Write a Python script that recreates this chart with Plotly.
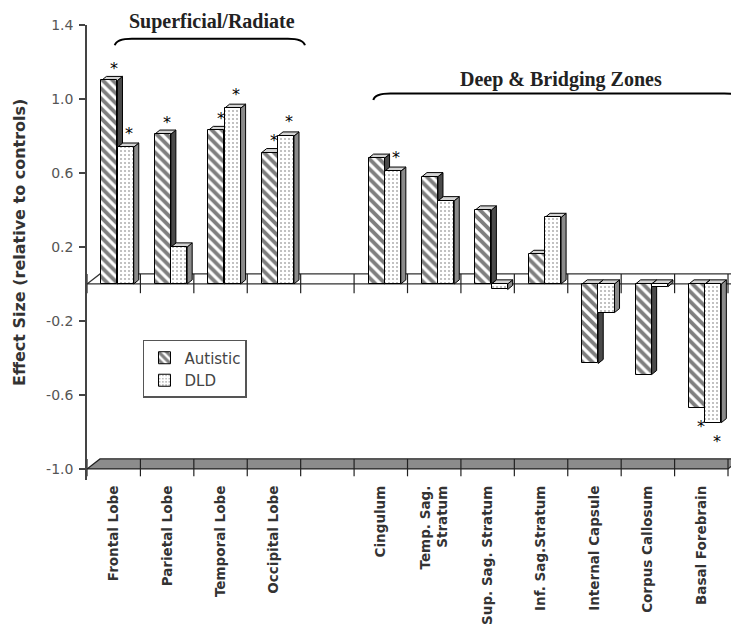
import plotly.graph_objects as go

# ---------------- data ----------------
categories = ["Frontal Lobe", "Parietal Lobe", "Temporal Lobe", "Occipital Lobe", "",
              "Cingulum", "Temp. Sag.<br>Stratum", "Sup. Sag. Stratum", "Inf. Sag.Stratum",
              "Internal Capsule", "Corpus Callosum", "Basal Forebrain"]
autistic = [1.10, 0.81, 0.83, 0.71, None, 0.68, 0.58, 0.40, 0.16, -0.43, -0.49, -0.67]
dld = [0.74, 0.20, 0.95, 0.80, None, 0.61, 0.45, -0.03, 0.36, -0.155, -0.015, -0.75]
autistic_sig = [1, 1, 1, 1, 0, 0, 0, 0, 0, 0, 0, 1]
dld_sig = [1, 0, 1, 1, 0, 1, 0, 0, 0, 0, 0, 1]
y_ticks = [1.4, 1.0, 0.6, 0.2, -0.2, -0.6, -1.0]
y_ticktext = ["1.4", "1.0", "0.6", "0.2", "-0.2", "-0.6", "-1.0"]

# ---------------- geometry / style ----------------
idx = list(range(len(categories)))
BW = 0.30          # bar width
A_OFF, D_OFF = -0.08, 0.225
BDX, BDY = 0.094, 0.022   # bar depth
DX, DY = 0.243, 0.054     # floor / plane depth
XR = [-0.5, 11.687]
YR = [-1.06, 1.4]
SANS = "DejaVu Sans"
SERIF = "Liberation Serif"

ax_x = [i + A_OFF for i, v in zip(idx, autistic) if v is not None]
ax_y = [v for v in autistic if v is not None]
dx_x = [i + D_OFF for i, v in zip(idx, dld) if v is not None]
dx_y = [v for v in dld if v is not None]

fig = go.Figure()
fig.add_trace(go.Bar(
    x=ax_x, y=ax_y, width=BW, name="Autistic", legendgroup="a",
    marker=dict(color="white", line=dict(color="black", width=1),
                pattern=dict(shape="\\", fgcolor="black", bgcolor="white", size=7, solidity=0.55)),
))
fig.add_trace(go.Bar(
    x=dx_x, y=dx_y, width=BW, name="DLD", legendgroup="d",
    marker=dict(color="white", line=dict(color="black", width=1),
                pattern=dict(shape=".", fgcolor="#666", bgcolor="white", size=4, solidity=0.22)),
))

shapes = []

# floor
shapes.append(dict(type="path", xref="x", yref="y", layer="below",
                   path=f"M{XR[0]},-1 L{XR[0]+DX},{-1+DY} L{11.5+DX},{-1+DY} L11.5,-1 Z",
                   fillcolor="#8c8c8c", line=dict(color="#222", width=1.2)))
# zero plane outline
shapes.append(dict(type="path", xref="x", yref="y", layer="below",
                   path=f"M{XR[1]},0 L{XR[0]},0 L{XR[0]+DX},{DY} L{XR[1]},{DY}",
                   line=dict(color="#333", width=1.2)))
# category boundary ticks
for k in range(-1, 12):
    b = k + 0.5
    shapes.append(dict(type="line", xref="x", yref="y", layer="below",
                       x0=b, x1=b, y0=DY, y1=-0.05, line=dict(color="#222", width=1.2)))
    shapes.append(dict(type="line", xref="x", yref="y", layer="below",
                       x0=b, x1=b, y0=-1 + DY, y1=-1.04, line=dict(color="#222", width=1.2)))


def faces(xc, v, side_col):
    xa, xb = xc - BW / 2, xc + BW / 2
    y0, y1 = min(0, v), max(0, v)
    side = f"M{xb},{y0} L{xb+BDX},{y0+BDY} L{xb+BDX},{y1+BDY} L{xb},{y1} Z"
    top = f"M{xa},{y1} L{xa+BDX},{y1+BDY} L{xb+BDX},{y1+BDY} L{xb},{y1} Z"
    return [dict(type="path", xref="x", yref="y", layer="below", path=side,
                 fillcolor=side_col, line=dict(color="black", width=1)),
            dict(type="path", xref="x", yref="y", layer="below", path=top,
                 fillcolor="#d4d4d4", line=dict(color="black", width=1))]


for xc, v in zip(ax_x, ax_y):
    shapes += faces(xc, v, "#4a4a4a")
for xc, v in zip(dx_x, dx_y):
    shapes += faces(xc, v, "#8a8a8a")


# group brackets
def brace(x0, x1, ylow, yhigh):
    return dict(type="path", xref="x", yref="y",
                path=(f"M{x0},{ylow} Q{x0+0.03},{yhigh} {x0+0.32},{yhigh} "
                      f"L{x1-0.32},{yhigh} Q{x1-0.03},{yhigh} {x1},{ylow}"),
                line=dict(color="black", width=2))


shapes.append(brace(0.02, 3.58, 1.29, 1.326))
shapes.append(brace(4.86, 11.75, 0.995, 1.03))

annotations = []
# significance stars
for xc, v, s in zip([i + A_OFF for i in idx], autistic, autistic_sig):
    if s and v is not None:
        annotations.append(dict(x=xc + 0.08, y=v, xref="x", yref="y", text="*", showarrow=False,
                                yanchor="middle", yshift=12 if v > 0 else -19,
                                font=dict(family=SANS, size=16, color="black")))
for xc, v, s in zip([i + D_OFF for i in idx], dld, dld_sig):
    if s and v is not None:
        annotations.append(dict(x=xc + 0.06, y=v, xref="x", yref="y", text="*", showarrow=False,
                                yanchor="middle", yshift=14 if v > 0 else -19,
                                font=dict(family=SANS, size=16, color="black")))

annotations.append(dict(x=1.84, y=1.0066, xref="x", yref="paper", text="<b>Superficial/Radiate</b>",
                        showarrow=False, yanchor="middle",
                        font=dict(family=SERIF, size=20, color="#222")))
annotations.append(dict(x=8.38, y=1.108, xref="x", yref="y", text="<b>Deep & Bridging Zones</b>",
                        showarrow=False, yanchor="middle",
                        font=dict(family=SERIF, size=20, color="#222")))
annotations.append(dict(x=-0.1045, y=0.523, xref="paper", yref="paper",
                        text="<b>Effect Size (relative to controls)</b>", textangle=-90,
                        showarrow=False, xanchor="center", yanchor="middle",
                        font=dict(family=SANS, size=16, color="#333")))

# page body has an 8px margin; size and margins compensate for it
fig.update_layout(
    width=731, height=621,
    margin=dict(l=79, r=1, t=17, b=149, autoexpand=False),
    paper_bgcolor="white", plot_bgcolor="rgba(0,0,0,0)",
    barmode="overlay", bargap=0,
    showlegend=True,
    legend=dict(x=0.086, y=0.3077, xanchor="left", yanchor="top",
                bgcolor="white", bordercolor="#555", borderwidth=1.5,
                font=dict(family=SANS, size=15, color="#444"),
                tracegroupgap=7, traceorder="normal"),
    shapes=shapes, annotations=annotations,
    xaxis=dict(range=XR, tickvals=idx, ticktext=[f"<b>{c}</b>" for c in categories],
               tickangle=-90, showgrid=False, zeroline=False, showline=False, ticks="",
               ticklabelstandoff=2, automargin=False,
               tickfont=dict(family=SANS, size=13.5, color="#333")),
    yaxis=dict(range=YR, tickvals=y_ticks, ticktext=y_ticktext, showgrid=False,
               zeroline=False, showline=True, linecolor="#444", linewidth=1.5,
               ticks="outside", ticklen=6, tickcolor="#444", tickwidth=1.5,
               ticklabelstandoff=3, automargin=False,
               tickfont=dict(family=SANS, size=14, color="#555")),
)

fig.write_html("out.html")
